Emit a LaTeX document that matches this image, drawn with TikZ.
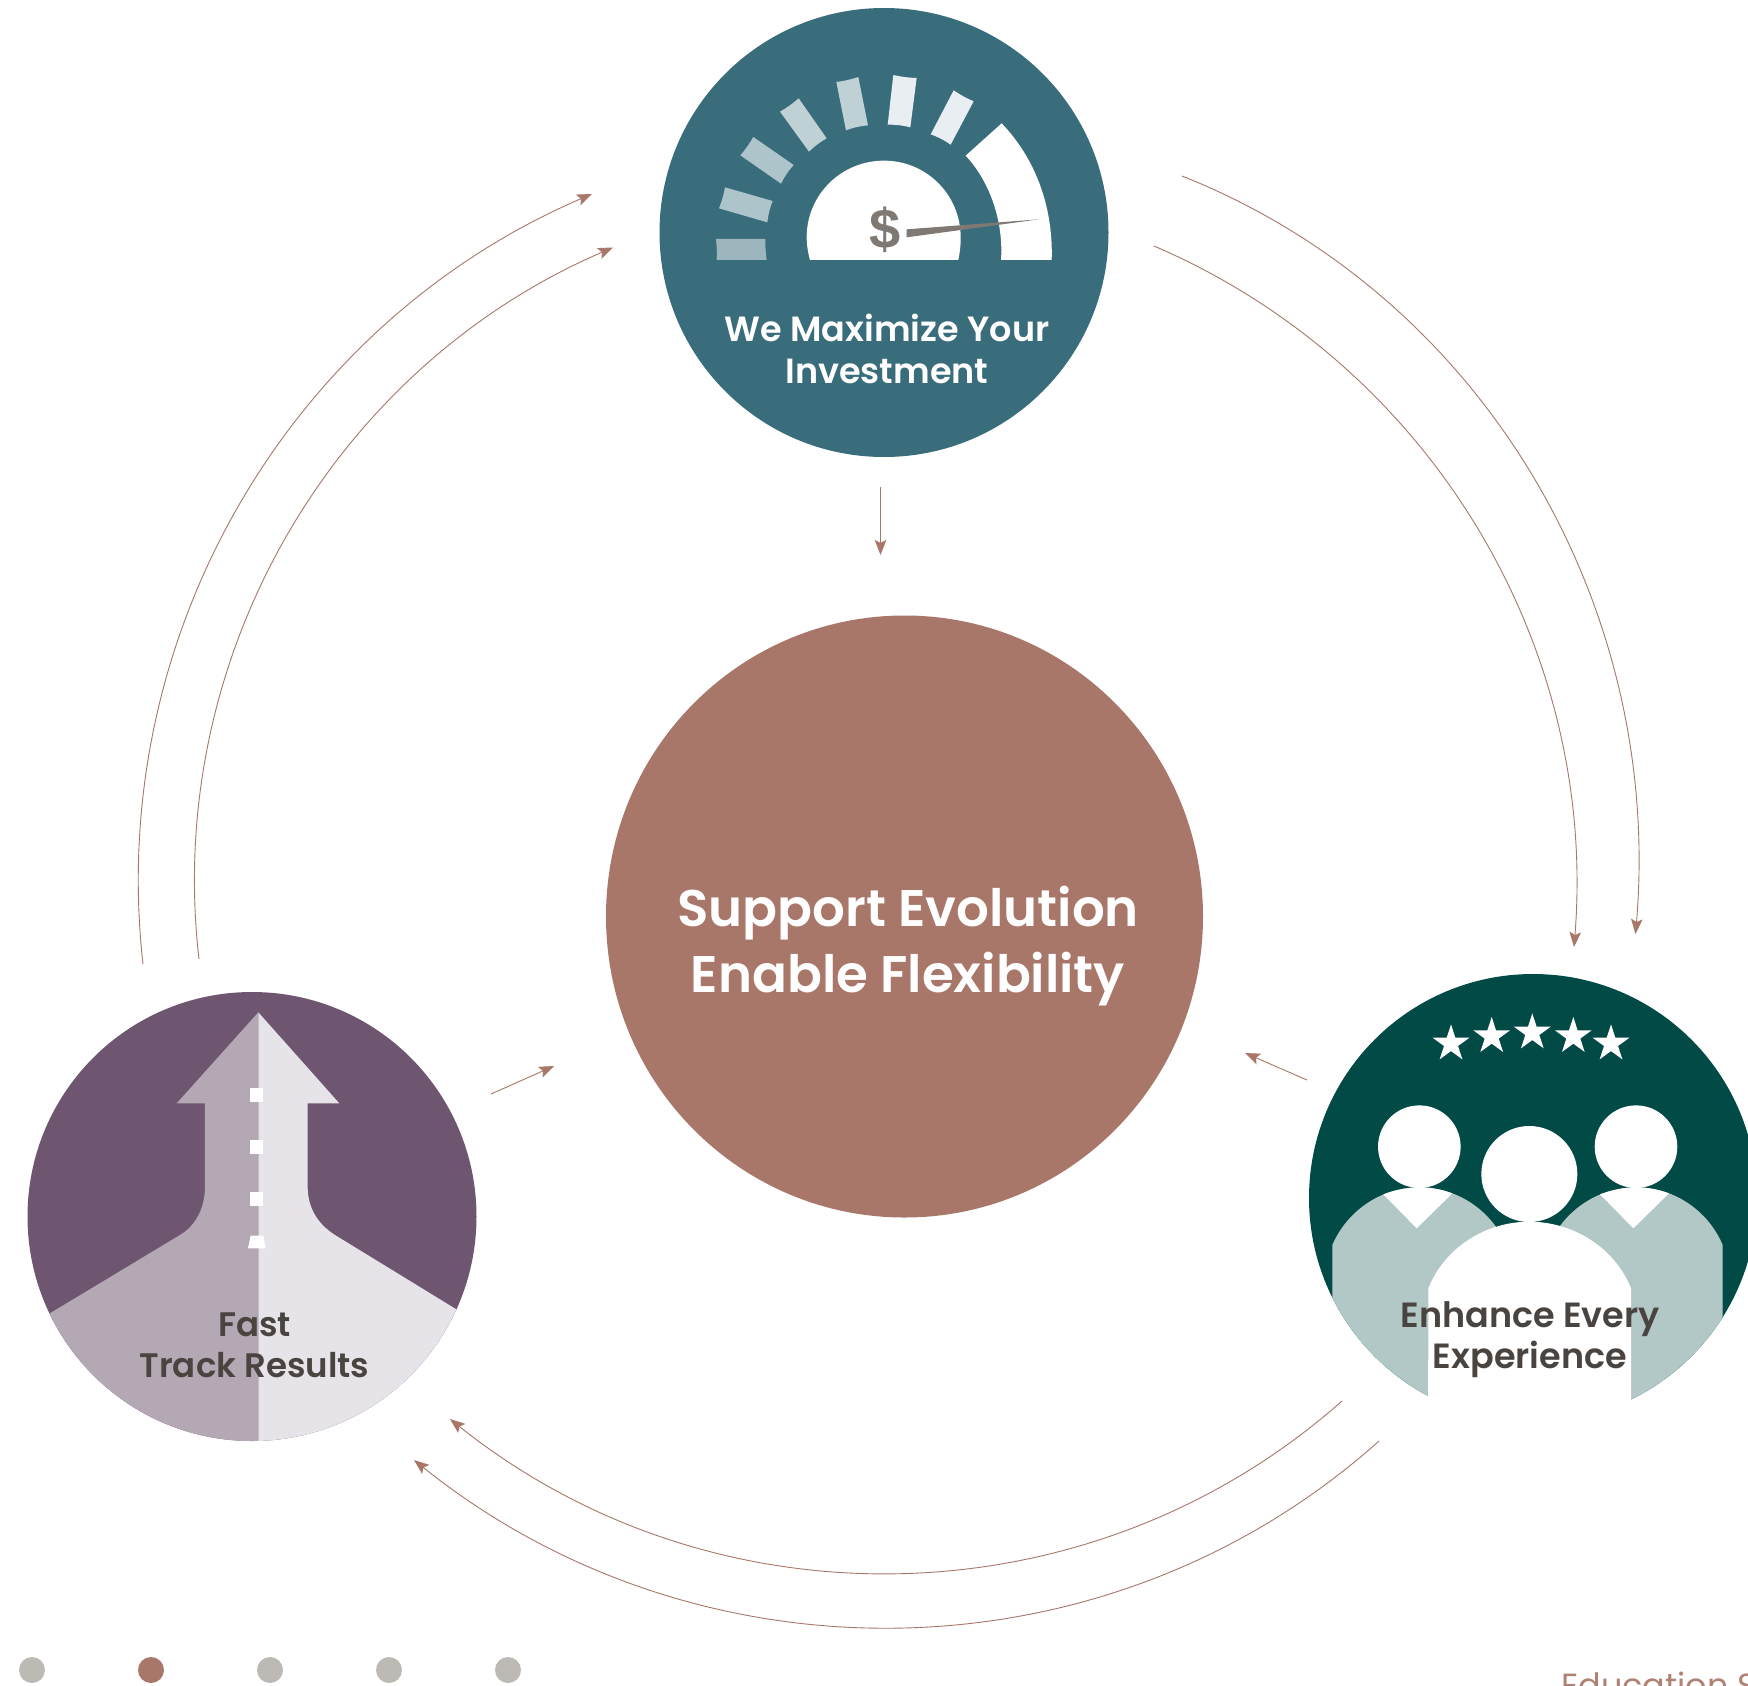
\documentclass[tikz,border=0pt]{standalone}
\usepackage{fontspec}
\setmainfont{Poppins}[UprightFont=* SemiBold]
\newfontfamily\footfont{Poppins}
\newfontfamily\dollarfont{Liberation Sans}[UprightFont=* Bold]
\usetikzlibrary{arrows.meta,shapes.geometric}
\definecolor{rose}{HTML}{A87769}
\definecolor{teal1}{HTML}{3A6D7C}
\definecolor{plum}{HTML}{6E5670}
\definecolor{plumL}{HTML}{B4A8B5}
\definecolor{plumR}{HTML}{E6E4E8}
\definecolor{forest}{HTML}{014A46}
\definecolor{sage}{HTML}{B2C8C6}
\definecolor{ink}{HTML}{4A4440}
\definecolor{needle}{HTML}{7F7873}
\definecolor{dotgrey}{HTML}{BDB9B5}
\definecolor{barA}{HTML}{9DB6BD}
\definecolor{barB}{HTML}{AEC4CB}
\definecolor{barC}{HTML}{C0D1D6}
\definecolor{barD}{HTML}{E8EEF1}
\tikzset{
  x=1pt,y=-1pt,
  conn/.style={draw=rose,line width=0.9pt,-{Stealth[length=15pt,width=11.5pt,inset=3pt,fill=rose]}},
  disc/.style={circle,inner sep=0pt,outer sep=0pt,minimum size=#1},
  lab/.style={align=center,inner sep=0pt,outer sep=0pt},
  navdot/.style={circle,inner sep=0pt,outer sep=0pt,minimum size=26pt},
  startmark/.style={star,star points=5,star point ratio=2.618,fill=white,inner sep=0pt,outer sep=0pt,minimum size=38.6pt},
  zoomT/.style={shift={(640,0)},x=0.33333pt,y=-0.33333pt},
  zoomL/.style={shift={(0,970)},x=0.33333pt,y=-0.33333pt},
  zoomR/.style={shift={(1290,960)},x=0.33333pt,y=-0.33333pt},
}
\begin{document}
\begin{tikzpicture}
\useasboundingbox (0,0) rectangle (1748,1686);
\clip (0,0) rectangle (1748,1686);
\fill[white] (0,0) rectangle (1748,1686);

% centre
\node[ellipse,inner sep=0pt,outer sep=0pt,minimum width=597pt,minimum height=602pt,fill=rose] (hub) at (904.5,916.5) {};
\node[lab,text=white,font=\fontsize{51.5}{66}\selectfont] (hubtext) at (908,946) {Support Evolution\\Enable Flexibility};

% top circle
\node[disc=449pt,fill=teal1] (top) at (884,232.5) {};
\begin{scope}[zoomT]
  \fill[white] (510,780) -- (955,780) .. controls (962,745) and (962,725) .. (962,712)
    .. controls (962,585) and (860,482) .. (732,482)
    .. controls (603,482) and (500,585) .. (500,712)
    .. controls (500,730) and (503,755) .. (510,780) -- cycle;
  \fill[white] (1083,780) .. controls (1091,665) and (1050,545) .. (977,467) -- (1085,370)
    .. controls (1195,485) and (1240,635) .. (1235,780) -- cycle;
  \fill[barA] (228,717) -- (376,717) to[bend right=4] (380,780) -- (230,780) to[bend right=4] cycle;
  \fill[barB] (255,562) -- (398,603) to[bend right=7] (382,667) -- (237,625) to[bend right=5] cycle;
  \fill[barB] (340,411) -- (461,495) to[bend right=7] (423,551) -- (301,466) to[bend right=5] cycle;
  \fill[barC] (476,295) -- (560,415) to[bend right=7] (507,455) -- (420,335) to[bend right=5] cycle;
  \fill[barC] (655,231) -- (684,376) to[bend right=7] (618,391) -- (589,246) to[bend right=5] cycle;
  \fill[barD] (830,234) -- (811,382) to[bend right=7] (743,374) -- (760,225) to[bend right=5] cycle;
  \fill[barD] (1001,304) -- (932,434) to[bend right=7] (872,403) -- (941,271) to[bend right=5] cycle;
  \fill[needle] (1197,658) -- (800,688) -- (800,712) -- cycle;
\end{scope}
\node[inner sep=0pt,text=needle,font=\dollarfont\fontsize{56}{56}\selectfont] (dollar) at (885,230) {\$};
\node[lab,text=white,font=\fontsize{35}{42.5}\selectfont] (toptext) at (887,349) {We Maximize Your\\Investment};

% left circle
\node[disc=449pt,fill=plum] (left) at (252,1216.5) {};
\begin{scope}
  \clip (252,1216.5) circle[radius=224.5pt];
  \begin{scope}[zoomL]
    \fill[plumL] (775,127) -- (530,400) -- (615,400) -- (615,650)
      .. controls (615,710) and (590,765) .. (540,795) -- (50,1090) -- (50,1500) -- (775,1500) -- cycle;
    \fill[plumR] (775,127) -- (1018,400) -- (923,400) -- (923,650)
      .. controls (923,710) and (950,760) .. (1005,795) -- (1467,1078) -- (1467,1500) -- (775,1500) -- cycle;
    \fill[white] (750,355) rectangle (790,395);
    \fill[white] (750,510) rectangle (790,552);
    \fill[white] (750,667) rectangle (790,708);
    \fill[white] (752,797) -- (790,797) -- (797,835) -- (744,835) -- cycle;
  \end{scope}
\end{scope}
\node[lab,text=ink,font=\fontsize{34}{41}\selectfont] (lefttext) at (254.5,1345) {Fast\\Track Results};

% right circle
\node[disc=448pt,fill=forest] (right) at (1533,1198) {};
\begin{scope}
  \clip (1533,1198) circle[radius=224pt];
  \begin{scope}[zoomR]
    \fill[sage] (127,855) .. controls (170,755) and (270,682) .. (388,682)
      .. controls (506,682) and (606,755) .. (649,855) -- (649,1500) -- (127,1500) -- cycle;
    \fill[sage] (777,855) .. controls (820,755) and (920,682) .. (1038,682)
      .. controls (1156,682) and (1256,755) .. (1298,855) -- (1298,1500) -- (777,1500) -- cycle;
    \fill[white] (280,703) .. controls (320,688) and (360,682) .. (388,682)
      .. controls (420,682) and (455,688) .. (487,700) -- (380,805) -- cycle;
    \fill[white] (930,703) .. controls (970,688) and (1010,682) .. (1038,682)
      .. controls (1070,682) and (1105,688) .. (1137,700) -- (1030,805) -- cycle;
    \fill[white] (388,560) circle[radius=41.3pt];
    \fill[white] (1038,560) circle[radius=41.3pt];
    \fill[white] (718,642) circle[radius=48pt];
    \fill[white] (415,985) .. controls (465,860) and (590,785) .. (718,785)
      .. controls (846,785) and (973,860) .. (1023,985) -- (1023,1500) -- (415,1500) -- cycle;
  \end{scope}
\end{scope}
\begin{scope}[zoomR]
  \fill[white] (415,1200) rectangle (1023,1420);
\end{scope}
\node[startmark] (s1) at (1451,1043.7) {};
\node[startmark] (s2) at (1491.7,1036.3) {};
\node[startmark] (s3) at (1532.3,1032.7) {};
\node[startmark] (s4) at (1573.3,1036.3) {};
\node[startmark] (s5) at (1611,1043.7) {};
\node[lab,text=ink,font=\fontsize{35}{41}\selectfont] (righttext) at (1530,1339.5) {Enhance Every\\Experience};

% connectors
\coordinate (a1s) at (1182,176);  \coordinate (a1c) at (1486,297);  \coordinate (a1d) at (1663,608);  \coordinate (a1e) at (1635.5,934);
\coordinate (a2s) at (1154,246);  \coordinate (a2c) at (1431,365);  \coordinate (a2d) at (1598,647);  \coordinate (a2e) at (1574,947);
\coordinate (a3s) at (143,964);   \coordinate (a3c) at (106,636.5); \coordinate (a3d) at (289,324);   \coordinate (a3e) at (592,194);
\coordinate (a4s) at (199,959);   \coordinate (a4c) at (164,656.5); \coordinate (a4d) at (333.5,368); \coordinate (a4e) at (613,247.5);
\coordinate (a5s) at (1379,1441); \coordinate (a5c) at (1107,1684); \coordinate (a5d) at (698.5,1688);\coordinate (a5e) at (414,1460);
\coordinate (a6s) at (1342,1401); \coordinate (a6c) at (1090,1624); \coordinate (a6d) at (714,1630); \coordinate (a6e) at (450,1419);
\draw[conn] (a1s) .. controls (a1c) and (a1d) .. (a1e);
\draw[conn] (a2s) .. controls (a2c) and (a2d) .. (a2e);
\draw[conn] (a3s) .. controls (a3c) and (a3d) .. (a3e);
\draw[conn] (a4s) .. controls (a4c) and (a4d) .. (a4e);
\draw[conn] (a5s) .. controls (a5c) and (a5d) .. (a5e);
\draw[conn] (a6s) .. controls (a6c) and (a6d) .. (a6e);
\coordinate (b1s) at (880.5,487); \coordinate (b1e) at (880.5,555);
\coordinate (b2s) at (491,1094);  \coordinate (b2e) at (554,1066);
\coordinate (b3s) at (1307,1080); \coordinate (b3e) at (1245,1053);
\draw[conn] (b1s) -- (b1e);
\draw[conn] (b2s) -- (b2e);
\draw[conn] (b3s) -- (b3e);

% footer
\node[navdot,fill=dotgrey] (d1) at (32,1670) {};
\node[navdot,fill=rose] (d2) at (151,1670) {};
\node[navdot,fill=dotgrey] (d3) at (270,1670) {};
\node[navdot,fill=dotgrey] (d4) at (389,1670) {};
\node[navdot,fill=dotgrey] (d5) at (508,1670) {};
\node[anchor=base west,inner sep=0pt,text=rose!92!white,font=\footfont\fontsize{33.5}{36}\selectfont] (foot) at (1561,1697) {Education S};
\end{tikzpicture}
\end{document}
